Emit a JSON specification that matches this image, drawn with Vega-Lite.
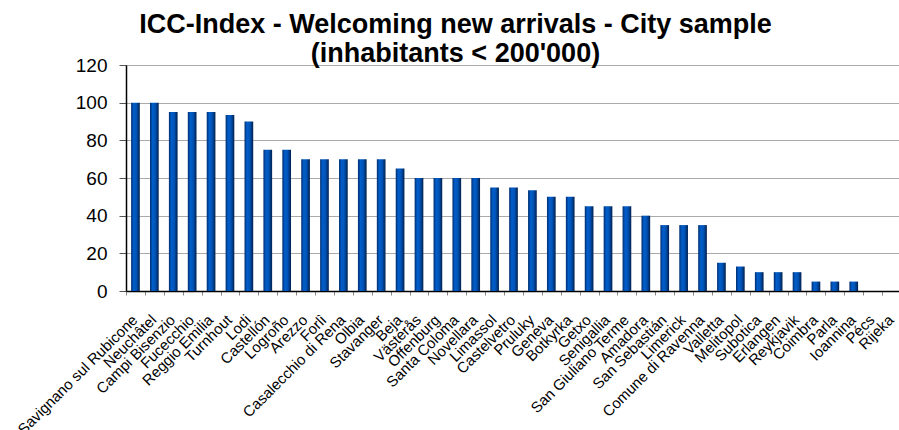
{
  "$schema": "https://vega.github.io/schema/vega-lite/v6.json",
  "autosize": {"type": "none"},
  "padding": {"left": 126, "top": 65, "right": 0, "bottom": 140},
  "width": 775,
  "height": 226,
  "background": "white",
  "title": {
    "text": ["ICC-Index - Welcoming new arrivals - City sample", "(inhabitants < 200'000)"],
    "font": "Liberation Sans",
    "fontSize": 27,
    "fontWeight": "bold",
    "color": "black",
    "anchor": "middle",
    "frame": "group",
    "dx": -58,
    "lineHeight": 29,
    "offset": -12
  },
  "data": {
    "values": [
      {"city": "Savignano sul Rubicone", "value": 100},
      {"city": "Neuchâtel", "value": 100},
      {"city": "Campi Bisenzio", "value": 95},
      {"city": "Fucecchio", "value": 95},
      {"city": "Reggio Emilia", "value": 95},
      {"city": "Turnhout", "value": 93.5},
      {"city": "Lodi", "value": 90},
      {"city": "Castellón", "value": 75},
      {"city": "Logroño", "value": 75},
      {"city": "Arezzo", "value": 70},
      {"city": "Forlì", "value": 70},
      {"city": "Casalecchio di Rena", "value": 70},
      {"city": "Olbia", "value": 70},
      {"city": "Stavanger", "value": 70},
      {"city": "Beja", "value": 65},
      {"city": "Västerås", "value": 60},
      {"city": "Offenburg", "value": 60},
      {"city": "Santa Coloma", "value": 60},
      {"city": "Novellara", "value": 60},
      {"city": "Limassol", "value": 55},
      {"city": "Castelvetro", "value": 55},
      {"city": "Pruluky", "value": 53.5},
      {"city": "Geneva", "value": 50},
      {"city": "Botkyrka", "value": 50},
      {"city": "Getxo", "value": 45},
      {"city": "Senigallia", "value": 45},
      {"city": "San Giuliano Terme", "value": 45},
      {"city": "Amadora", "value": 40},
      {"city": "San Sebastián", "value": 35},
      {"city": "Limerick", "value": 35},
      {"city": "Comune di Ravenna", "value": 35},
      {"city": "Valletta", "value": 15},
      {"city": "Melitopol", "value": 13},
      {"city": "Subotica", "value": 10},
      {"city": "Erlangen", "value": 10},
      {"city": "Reykjavik", "value": 10},
      {"city": "Coimbra", "value": 5},
      {"city": "Parla", "value": 5},
      {"city": "Ioannina", "value": 5},
      {"city": "Pécs", "value": 0},
      {"city": "Rijeka", "value": 0}
    ]
  },
  "mark": {
    "type": "bar",
    "width": {"band": 0.46},
    "color": {
      "gradient": "linear",
      "x1": 0, "y1": 0, "x2": 1, "y2": 0,
      "stops": [
        {"offset": 0, "color": "#002d6e"},
        {"offset": 0.3, "color": "#005ecb"},
        {"offset": 0.6, "color": "#0054b8"},
        {"offset": 1, "color": "#00204f"}
      ]
    }
  },
  "encoding": {
    "x": {
      "field": "city",
      "type": "nominal",
      "sort": null,
      "scale": {"paddingInner": 0, "paddingOuter": 0},
      "axis": {
        "title": null,
        "labelAngle": -45,
        "labelFont": "Liberation Sans",
        "labelFontSize": 15,
        "labelColor": "black",
        "labelOverlap": false,
        "labelBound": false,
        "labelLimit": 0,
        "labelAlign": "right",
        "labelBaseline": "top",
        "labelPadding": 17,
        "labelOffset": -6,
        "tickBand": "extent",
        "tickSize": 4,
        "tickColor": "#888888",
        "domainColor": "black",
        "domainWidth": 1.5,
        "grid": false
      }
    },
    "y": {
      "field": "value",
      "type": "quantitative",
      "scale": {"domain": [0, 120], "nice": false},
      "axis": {
        "title": null,
        "values": [0, 20, 40, 60, 80, 100, 120],
        "labelFont": "Liberation Sans",
        "labelFontSize": 19,
        "labelColor": "black",
        "labelPadding": 12,
        "tickSize": 7,
        "tickColor": "#555555",
        "domainColor": "black",
        "domainWidth": 1.5,
        "grid": true,
        "gridColor": "#555555",
        "gridDash": [1, 1],
        "gridWidth": 1
      }
    }
  },
  "config": {"view": {"stroke": null}}
}
